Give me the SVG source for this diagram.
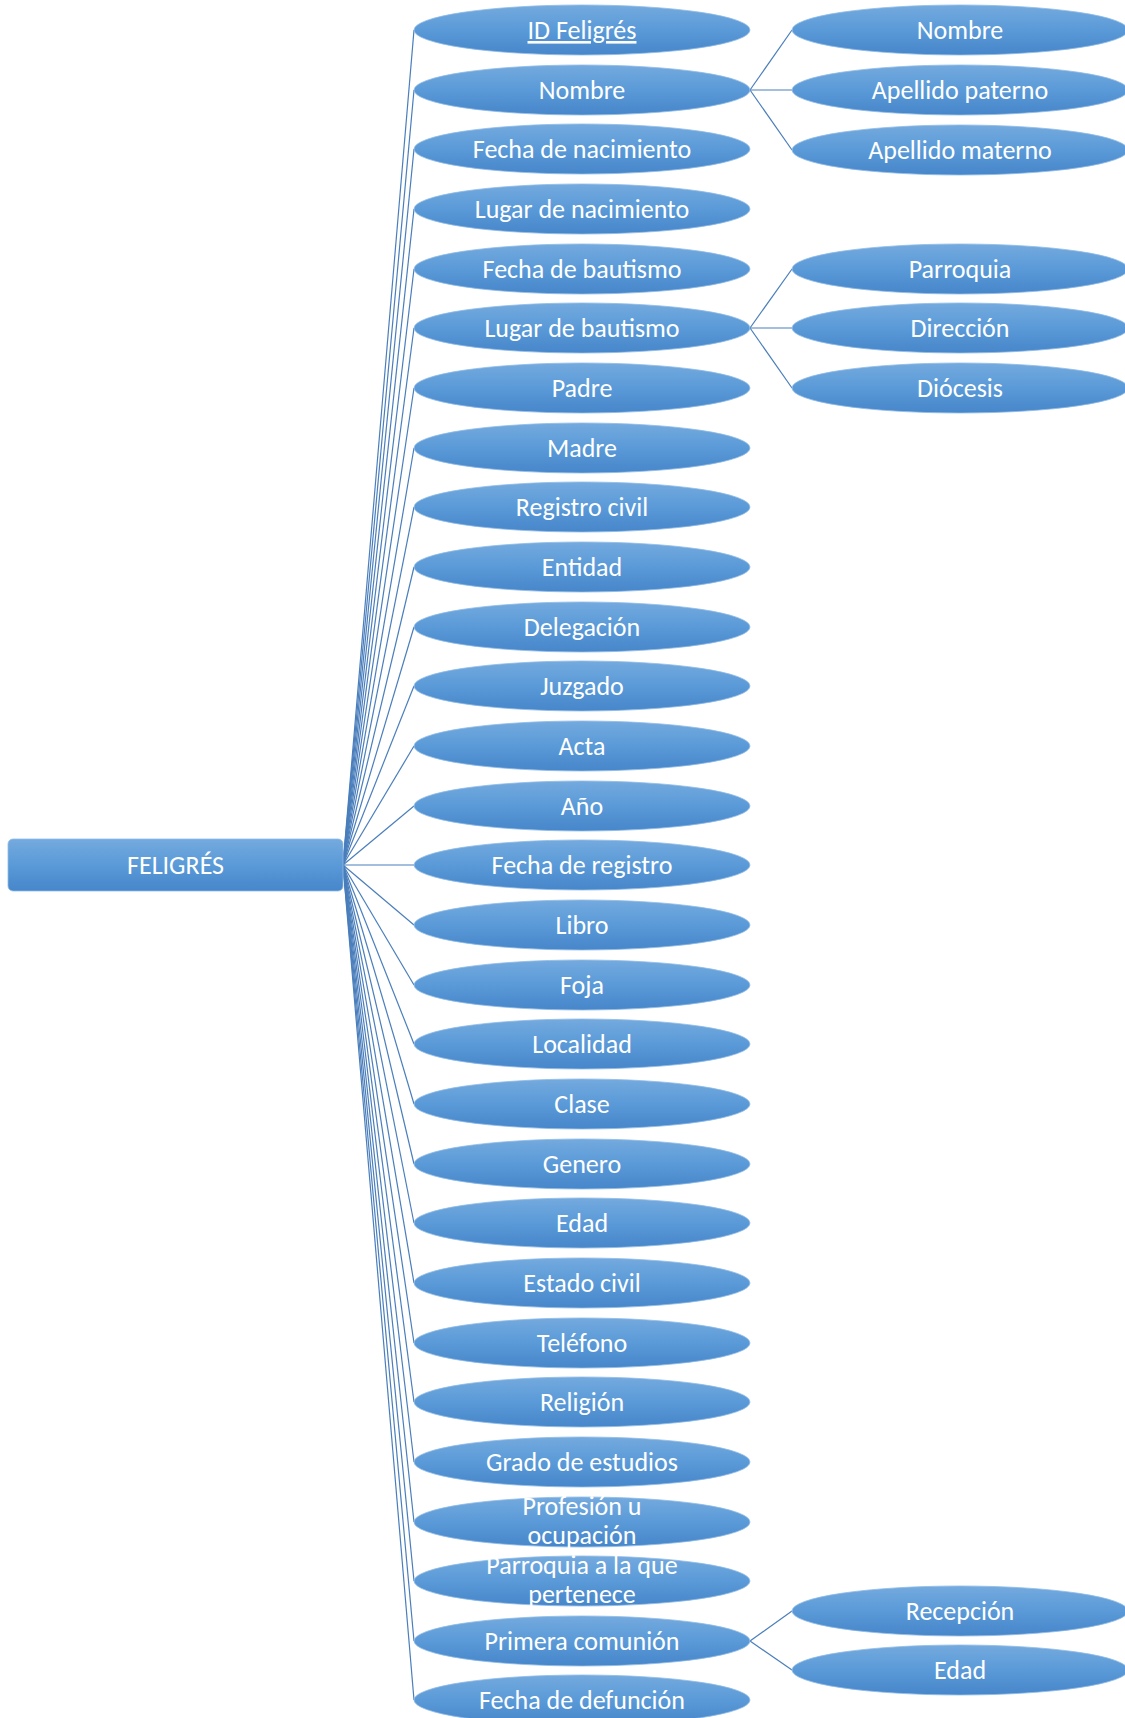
<svg xmlns="http://www.w3.org/2000/svg" width="1125" height="1718" viewBox="0 0 1125 1718">
  <defs>
    <linearGradient id="fillBlue" x1="0" y1="0" x2="0" y2="1">
      <stop offset="0" stop-color="#74aade"/>
      <stop offset="0.5" stop-color="#5a9ad8"/>
      <stop offset="1" stop-color="#4686ca"/>
    </linearGradient>
  </defs>
  <style>
    .attr { fill: url(#fillBlue); stroke: #8fbbe6; stroke-width: 0.8; }
    .entity { fill: url(#fillBlue); stroke: #8fbbe6; stroke-width: 0.8; }
    .lbl { fill: #ffffff; font-family: Carlito, Lato, "Open Sans", sans-serif; font-size: 26px; text-anchor: middle; }
    .conn { stroke: #4a7ebb; stroke-width: 1.2; fill: none; }
  </style>
  <rect width="1125" height="1718" fill="#ffffff"/>

  <!-- connectors -->
  <g id="connectors" class="conn">
    <path d="M343 865 L414 30"/>
    <path d="M343 865 L414 90"/>
    <path d="M343 865 L414 149"/>
    <path d="M343 865 L414 209"/>
    <path d="M343 865 L414 269"/>
    <path d="M343 865 L414 328"/>
    <path d="M343 865 L414 388"/>
    <path d="M343 865 L414 448"/>
    <path d="M343 865 L414 507"/>
    <path d="M343 865 L414 567"/>
    <path d="M343 865 L414 627"/>
    <path d="M343 865 L414 686"/>
    <path d="M343 865 L414 746"/>
    <path d="M343 865 L414 806"/>
    <path d="M343 865 L414 865"/>
    <path d="M343 865 L414 925"/>
    <path d="M343 865 L414 985"/>
    <path d="M343 865 L414 1044"/>
    <path d="M343 865 L414 1104"/>
    <path d="M343 865 L414 1164"/>
    <path d="M343 865 L414 1223"/>
    <path d="M343 865 L414 1283"/>
    <path d="M343 865 L414 1343"/>
    <path d="M343 865 L414 1402"/>
    <path d="M343 865 L414 1462"/>
    <path d="M343 865 L414 1522"/>
    <path d="M343 865 L414 1581"/>
    <path d="M343 865 L414 1641"/>
    <path d="M343 865 L414 1700"/>
    <path d="M750 90 L792 30"/>
    <path d="M750 90 L792 90"/>
    <path d="M750 90 L792 150"/>
    <path d="M750 328 L792 269"/>
    <path d="M750 328 L792 328"/>
    <path d="M750 328 L792 388"/>
    <path d="M750 1641 L792 1611"/>
    <path d="M750 1641 L792 1670"/>
  </g>

  <!-- entity -->
  <g id="feligres">
    <rect class="entity" x="8" y="839" width="335" height="52" rx="5"/>
    <text class="lbl" x="175.5" y="874">FELIGRÉS</text>
  </g>

  <!-- attributes -->
  <g id="id-feligres"><ellipse class="attr" cx="582" cy="30" rx="168" ry="25"/><text class="lbl" x="582" y="39" text-decoration="underline">ID Feligrés</text></g>
  <g id="nombre"><ellipse class="attr" cx="582" cy="90" rx="168" ry="25"/><text class="lbl" x="582" y="99">Nombre</text></g>
  <g id="fecha-nacimiento"><ellipse class="attr" cx="582" cy="149" rx="168" ry="25"/><text class="lbl" x="582" y="158">Fecha de nacimiento</text></g>
  <g id="lugar-nacimiento"><ellipse class="attr" cx="582" cy="209" rx="168" ry="25"/><text class="lbl" x="582" y="218">Lugar de nacimiento</text></g>
  <g id="fecha-bautismo"><ellipse class="attr" cx="582" cy="269" rx="168" ry="25"/><text class="lbl" x="582" y="278">Fecha de bautismo</text></g>
  <g id="lugar-bautismo"><ellipse class="attr" cx="582" cy="328" rx="168" ry="25"/><text class="lbl" x="582" y="337">Lugar de bautismo</text></g>
  <g id="padre"><ellipse class="attr" cx="582" cy="388" rx="168" ry="25"/><text class="lbl" x="582" y="397">Padre</text></g>
  <g id="madre"><ellipse class="attr" cx="582" cy="448" rx="168" ry="25"/><text class="lbl" x="582" y="457">Madre</text></g>
  <g id="registro-civil"><ellipse class="attr" cx="582" cy="507" rx="168" ry="25"/><text class="lbl" x="582" y="516">Registro civil</text></g>
  <g id="entidad"><ellipse class="attr" cx="582" cy="567" rx="168" ry="25"/><text class="lbl" x="582" y="576">Entidad</text></g>
  <g id="delegacion"><ellipse class="attr" cx="582" cy="627" rx="168" ry="25"/><text class="lbl" x="582" y="636">Delegación</text></g>
  <g id="juzgado"><ellipse class="attr" cx="582" cy="686" rx="168" ry="25"/><text class="lbl" x="582" y="695">Juzgado</text></g>
  <g id="acta"><ellipse class="attr" cx="582" cy="746" rx="168" ry="25"/><text class="lbl" x="582" y="755">Acta</text></g>
  <g id="anio"><ellipse class="attr" cx="582" cy="806" rx="168" ry="25"/><text class="lbl" x="582" y="815">Año</text></g>
  <g id="fecha-registro"><ellipse class="attr" cx="582" cy="865" rx="168" ry="25"/><text class="lbl" x="582" y="874">Fecha de registro</text></g>
  <g id="libro"><ellipse class="attr" cx="582" cy="925" rx="168" ry="25"/><text class="lbl" x="582" y="934">Libro</text></g>
  <g id="foja"><ellipse class="attr" cx="582" cy="985" rx="168" ry="25"/><text class="lbl" x="582" y="994">Foja</text></g>
  <g id="localidad"><ellipse class="attr" cx="582" cy="1044" rx="168" ry="25"/><text class="lbl" x="582" y="1053">Localidad</text></g>
  <g id="clase"><ellipse class="attr" cx="582" cy="1104" rx="168" ry="25"/><text class="lbl" x="582" y="1113">Clase</text></g>
  <g id="genero"><ellipse class="attr" cx="582" cy="1164" rx="168" ry="25"/><text class="lbl" x="582" y="1173">Genero</text></g>
  <g id="edad"><ellipse class="attr" cx="582" cy="1223" rx="168" ry="25"/><text class="lbl" x="582" y="1232">Edad</text></g>
  <g id="estado-civil"><ellipse class="attr" cx="582" cy="1283" rx="168" ry="25"/><text class="lbl" x="582" y="1292">Estado civil</text></g>
  <g id="telefono"><ellipse class="attr" cx="582" cy="1343" rx="168" ry="25"/><text class="lbl" x="582" y="1352">Teléfono</text></g>
  <g id="religion"><ellipse class="attr" cx="582" cy="1402" rx="168" ry="25"/><text class="lbl" x="582" y="1411">Religión</text></g>
  <g id="grado-estudios"><ellipse class="attr" cx="582" cy="1462" rx="168" ry="25"/><text class="lbl" x="582" y="1471">Grado de estudios</text></g>
  <g id="profesion"><ellipse class="attr" cx="582" cy="1522" rx="168" ry="25"/><text class="lbl" x="582" y="1515">Profesión u</text><text class="lbl" x="582" y="1544">ocupación</text></g>
  <g id="parroquia-pertenece"><ellipse class="attr" cx="582" cy="1581" rx="168" ry="25"/><text class="lbl" x="582" y="1574">Parroquia a la que</text><text class="lbl" x="582" y="1603">pertenece</text></g>
  <g id="primera-comunion"><ellipse class="attr" cx="582" cy="1641" rx="168" ry="25"/><text class="lbl" x="582" y="1650">Primera comunión</text></g>
  <g id="fecha-defuncion"><ellipse class="attr" cx="582" cy="1700" rx="168" ry="25"/><text class="lbl" x="582" y="1709">Fecha de defunción</text></g>

  <!-- composite attribute parts -->
  <g id="nombre-nombre"><ellipse class="attr" cx="960" cy="30" rx="168" ry="25"/><text class="lbl" x="960" y="39">Nombre</text></g>
  <g id="apellido-paterno"><ellipse class="attr" cx="960" cy="90" rx="168" ry="25"/><text class="lbl" x="960" y="99">Apellido paterno</text></g>
  <g id="apellido-materno"><ellipse class="attr" cx="960" cy="150" rx="168" ry="25"/><text class="lbl" x="960" y="159">Apellido materno</text></g>
  <g id="parroquia"><ellipse class="attr" cx="960" cy="269" rx="168" ry="25"/><text class="lbl" x="960" y="278">Parroquia</text></g>
  <g id="direccion"><ellipse class="attr" cx="960" cy="328" rx="168" ry="25"/><text class="lbl" x="960" y="337">Dirección</text></g>
  <g id="diocesis"><ellipse class="attr" cx="960" cy="388" rx="168" ry="25"/><text class="lbl" x="960" y="397">Diócesis</text></g>
  <g id="recepcion"><ellipse class="attr" cx="960" cy="1611" rx="168" ry="25"/><text class="lbl" x="960" y="1620">Recepción</text></g>
  <g id="comunion-edad"><ellipse class="attr" cx="960" cy="1670" rx="168" ry="25"/><text class="lbl" x="960" y="1679">Edad</text></g>
</svg>
